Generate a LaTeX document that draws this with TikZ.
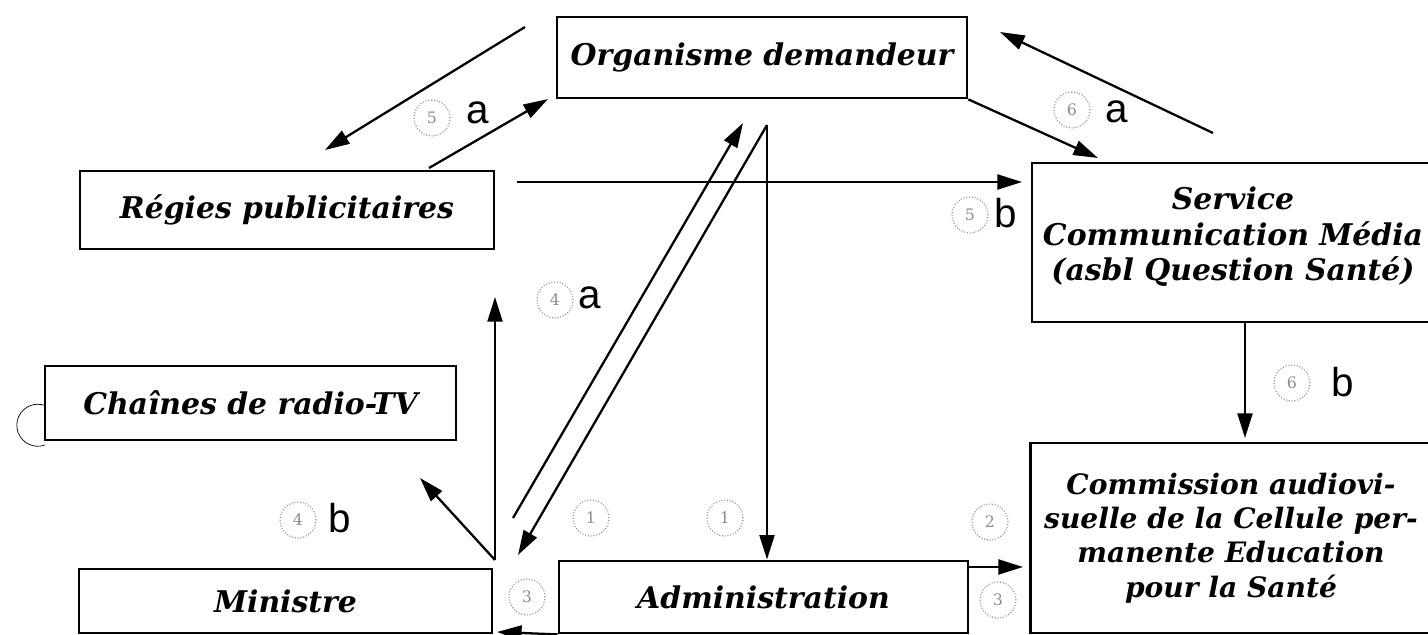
\documentclass[tikz,border=0pt]{standalone}
\usepackage{fontspec}
\setmainfont{DejaVu Serif}
\newfontfamily\letterfont{Liberation Sans}
\usetikzlibrary{arrows.meta}
\definecolor{inkblack}{HTML}{000000}
\definecolor{stampgray}{HTML}{8C8C8C}

\begin{document}
\begin{tikzpicture}[
  x=0.02cm, y=-0.02cm,
  box/.style={
    draw=inkblack,
    line width=1.6pt,
    align=center,
    inner sep=0pt,
    font=\bfseries\itshape\fontsize{17}{20}\selectfont
  },
  arrow/.style={-{Triangle[length=14pt,width=8.5pt]}, inkblack, line width=1.3pt},
  stamp/.style={
    circle,
    draw=stampgray,
    densely dotted,
    line width=0.6pt,
    minimum size=0.72cm,
    inner sep=0pt,
    text=stampgray,
    font=\small
  },
  letter/.style={font=\letterfont\fontsize{23}{23}\selectfont}
]
\useasboundingbox (0,0) rectangle (1428,635);

\node[box, minimum width=8.2cm, minimum height=1.62cm] (orga) at (762,57.5)
  {Organisme demandeur};
\node[box, minimum width=8.28cm, minimum height=1.56cm] (regies) at (287,210)
  {Régies publicitaires};
\node[box, minimum width=8.04cm, minimum height=3.18cm] (service) at (1233,242.5)
  {Service\\Communication Média\\(asbl Question Santé)\\[-10pt]};
\node[box, minimum width=8.22cm, minimum height=1.48cm] (chaines) at (250.5,403)
  {Chaînes de radio-TV};
\node[box, minimum width=8.26cm, minimum height=1.28cm] (ministre) at (285.5,601)
  {Ministre};
\node[box, minimum width=8.18cm, minimum height=1.44cm] (admin) at (763.5,597)
  {Administration};
\node[box, minimum width=8.02cm, minimum height=3.8cm,
  font=\bfseries\itshape\fontsize{16}{19.5}\selectfont] (commission) at (1231,538)
  {Commission audiovi-\\suelle de la Cellule per-\\manente Education\\pour la Santé};

\node[stamp] (s5a) at (432,118) {5};
\node[stamp] (s6a) at (1072,110) {6};
\node[stamp] (s5b) at (970,215) {5};
\node[stamp] (s4a) at (555,300) {4};
\node[stamp] (s4b) at (298,520) {4};
\node[stamp] (s1a) at (591,518) {1};
\node[stamp] (s1b) at (725,518) {1};
\node[stamp] (s2) at (990,522) {2};
\node[stamp] (s3a) at (527,597) {3};
\node[stamp] (s3b) at (998,600) {3};
\node[stamp] (s6b) at (1292,383) {6};

\node[letter] (l5a) at (478,113) {a};
\node[letter] (l6a) at (1117,112) {a};
\node[letter] (l5b) at (1006,213) {b};
\node[letter] (l4a) at (590,298) {a};
\node[letter] (l4b) at (340,518) {b};
\node[letter] (l6b) at (1343,382) {b};

\coordinate (orgaFoot) at (767,125);
\coordinate (orgaTip) at (743,123);
\coordinate (orgaLeft) at (525,27);
\coordinate (regiesTip) at (325,150);
\coordinate (regiesTop) at (429,168);
\coordinate (orgaIn) at (548,99);
\coordinate (pubOut) at (517,182);
\coordinate (serviceIn) at (1022,182);
\coordinate (serviceTop) at (1098,158);
\coordinate (serviceOut) at (1213,133);
\coordinate (orgaRight) at (1000,32);
\coordinate (serviceFoot) at (1245,322);
\coordinate (commTop) at (1245,438);
\coordinate (ministreOut) at (513,518);
\coordinate (ministreIn) at (518,555);
\coordinate (ministreTop) at (495,560);
\coordinate (regiesBelow) at (495,297);
\coordinate (chainesTip) at (420,478);
\coordinate (adminOut) at (968,567);
\coordinate (commIn) at (1023,567);
\coordinate (ministreFoot) at (497,632);

\draw[arrow] (orgaLeft) -- (regiesTip);
\draw[arrow] (regiesTop) -- (orgaIn);
\draw[arrow] (pubOut) -- (serviceIn);
\draw[arrow] (orga.south east) -- (serviceTop);
\draw[arrow] (serviceOut) -- (orgaRight);
\draw[arrow] (serviceFoot) -- (commTop);
\draw[arrow] (orgaFoot) -- (admin.north -| orgaFoot);
\draw[arrow] (orgaFoot) -- (ministreIn);
\draw[arrow] (ministreOut) -- (orgaTip);
\draw[arrow] (ministreTop) -- (regiesBelow);
\draw[arrow] (ministreTop) -- (chainesTip);
\draw[arrow] (adminOut) -- (commIn);
\draw[arrow] (admin.south west) -- (ministreFoot);

\draw[inkblack, line width=0.4pt] (45,445) arc[start angle=70, end angle=290, radius=21];

\end{tikzpicture}
\end{document}
